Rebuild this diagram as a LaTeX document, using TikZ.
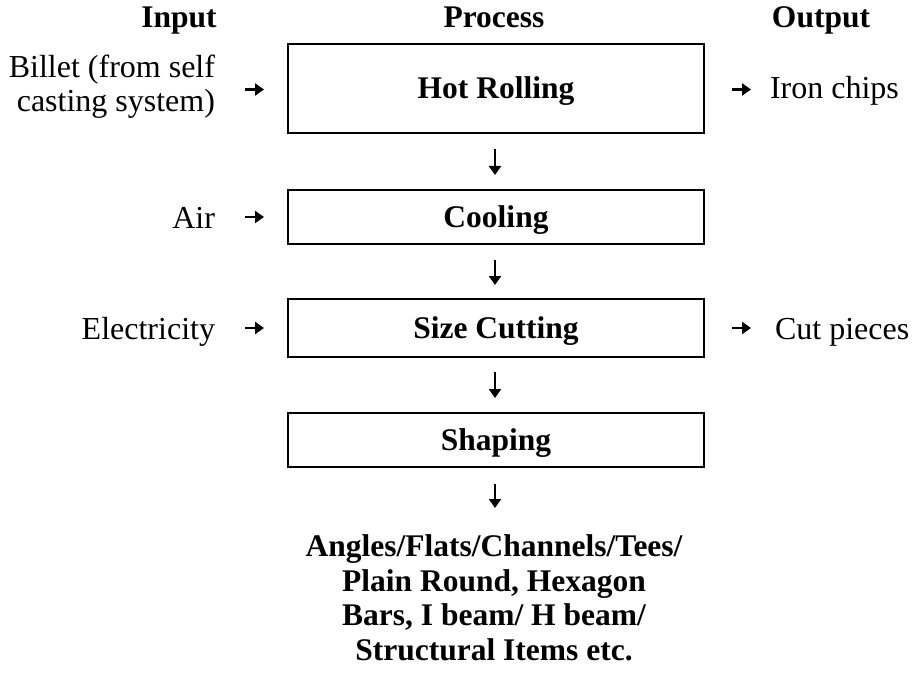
\documentclass[tikz,border=0pt]{standalone}
\usepackage{fontspec}
\setmainfont{Liberation Serif}
\usetikzlibrary{arrows.meta}
\begin{document}
\begin{tikzpicture}[x=1pt,y=-1pt,
  every node/.style={font=\fontsize{32}{34}\selectfont, inner sep=0pt, outer sep=0pt},
  head/.style={font=\fontsize{31.5}{34}\selectfont\bfseries, anchor=base},
  procbox/.style={draw, line width=1.3pt, minimum width=416pt, text depth=0pt, text height=21pt, font=\fontsize{31.5}{34}\selectfont\bfseries},
  arr/.style={line width=2.6pt, -{Triangle[length=9pt,width=12pt]}},
  intext/.style={anchor=base east},
  outtext/.style={anchor=base west}
]
\useasboundingbox (0,0) rectangle (912,679);
% headers
\node[head] (hin) at (179,28) {Input};
\node[head] (hproc) at (494,28) {Process};
\node[head] (hout) at (821,28) {Output};
% process boxes
\node[procbox, minimum height=89pt] (b1) at (496,88.5) {Hot Rolling};
\node[procbox, minimum height=54pt] (b2) at (496,217) {Cooling};
\node[procbox, minimum height=58pt] (b3) at (496,328) {Size Cutting};
\node[procbox, minimum height=54pt] (b4) at (496,440) {Shaping};
% inputs
\node[anchor=east, align=right] (i1) at (215,87) {Billet (from self\\casting system)};
\node[intext] (i2) at (215,228) {Air};
\node[intext] (i3) at (215,339) {Electricity};
% outputs
\node[outtext] (o1) at (770,99) {Iron chips};
\node[outtext] (o3) at (775,339) {Cut pieces};
% final product
\node[align=center, font=\fontsize{31.5}{34.5}\selectfont\bfseries] (prod) at (494,598)
  {Angles/Flats/Channels/Tees/\\Plain Round, Hexagon\\Bars, I beam/ H beam/\\Structural Items etc.};
% horizontal arrows
\draw[arr] ([xshift=-43pt,yshift=-1pt]b1.west) -- ([xshift=-24pt,yshift=-1pt]b1.west);
\draw[arr] ([xshift=-43pt]b2.west) -- ([xshift=-24pt]b2.west);
\draw[arr] ([xshift=-43pt]b3.west) -- ([xshift=-24pt]b3.west);
\draw[arr] ([xshift=28pt,yshift=-1pt]b1.east) -- ([xshift=47pt,yshift=-1pt]b1.east);
\draw[arr] ([xshift=28pt]b3.east) -- ([xshift=47pt]b3.east);
% vertical arrows
\draw[arr] ([xshift=-1pt,yshift=-16pt]b1.south) -- ([xshift=-1pt,yshift=15pt]b2.north);
\draw[arr] ([xshift=-1pt,yshift=-16pt]b2.south) -- ([xshift=-1pt,yshift=14pt]b3.north);
\draw[arr] ([xshift=-1pt,yshift=-15pt]b3.south) -- ([xshift=-1pt,yshift=15pt]b4.north);
\draw[arr] ([xshift=-1pt,yshift=-17pt]b4.south) -- ([xshift=-1pt,yshift=-41pt]b4.south);
\end{tikzpicture}
\end{document}
